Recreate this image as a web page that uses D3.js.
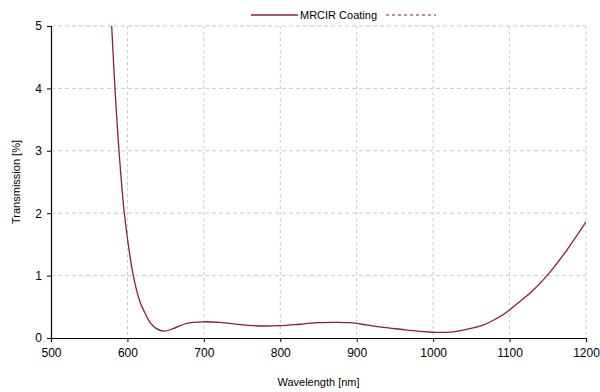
<!DOCTYPE html>
<html>
<head>
<meta charset="utf-8">
<script src="https://cdn.jsdelivr.net/npm/d3@7"></script>
<style>
  body { margin: 0; background: #fff; }
  svg { display: block; font-family: "Liberation Sans", Arial, sans-serif; }
</style>
</head>
<body>
<div id="chart"></div>
<script>
// Transmission curve
const wavelengths = [579.4, 583.7, 589, 596, 607.7, 617, 623, 629.5, 638, 648, 660, 677.5, 699, 721, 745, 765, 800, 825, 848, 870, 891, 913, 935, 957, 980, 1005, 1022, 1044, 1066, 1087, 1100, 1115, 1127, 1149, 1175, 1200];
const transmission = [5.0, 4.0, 3.0, 2.0, 1.0, 0.56, 0.40, 0.25, 0.15, 0.11, 0.15, 0.235, 0.26, 0.25, 0.22, 0.197, 0.197, 0.22, 0.245, 0.25, 0.245, 0.21, 0.17, 0.14, 0.11, 0.09, 0.095, 0.14, 0.21, 0.34, 0.45, 0.60, 0.72, 1.0, 1.41, 1.86];
const xTicks = [500, 600, 700, 800, 900, 1000, 1100, 1200];
const yTicks = [0, 1, 2, 3, 4, 5];
const seriesName = 'MRCIR Coating';

const W = 600, H = 392;
const margin = { top: 26, right: 14, bottom: 54, left: 51 };
const width = W - margin.left - margin.right;
const height = H - margin.top - margin.bottom;

const svg = d3.select('#chart').append('svg')
    .attr('width', W)
    .attr('height', H);

const g = svg.append('g')
    .attr('transform', `translate(${margin.left},${margin.top})`);

const x = d3.scaleLinear().domain([500, 1200]).range([0, width]);
const y = d3.scaleLinear().domain([0, 5]).range([height, 0]);

// Grid
g.append('g').selectAll('line')
    .data(xTicks.filter(d => d > 500))
    .join('line')
    .attr('x1', d => x(d)).attr('x2', d => x(d))
    .attr('y1', 0).attr('y2', height)
    .attr('stroke', '#c8c8c8')
    .attr('stroke-dasharray', '3,3');

g.append('g').selectAll('line')
    .data(yTicks.filter(d => d > 0))
    .join('line')
    .attr('x1', 0).attr('x2', width)
    .attr('y1', d => y(d)).attr('y2', d => y(d))
    .attr('stroke', '#c8c8c8')
    .attr('stroke-dasharray', '4,3');

// Axes
const xAxis = g.append('g')
    .attr('transform', `translate(0,${height})`)
    .call(d3.axisBottom(x).tickValues(xTicks).tickSize(4).tickPadding(6).tickFormat(d3.format('d')));
const yAxis = g.append('g')
    .call(d3.axisLeft(y).tickValues(yTicks).tickSize(4).tickPadding(5).tickFormat(d3.format('d')));

[xAxis, yAxis].forEach(a => {
    a.select('.domain').attr('stroke', '#000').attr('stroke-width', 1.2);
    a.selectAll('.tick line').attr('stroke', '#000');
    a.selectAll('.tick text').attr('font-size', '12px').attr('fill', '#000')
        .attr('font-family', '"Liberation Sans", Arial, sans-serif');
});

// Curve (clipped to plot area)
svg.append('defs').append('clipPath').attr('id', 'clip')
    .append('rect').attr('width', width).attr('height', height);

const data = wavelengths.map((w, i) => ({ w, t: transmission[i] }));
const line = d3.line()
    .x(d => x(d.w))
    .y(d => y(d.t))
    .curve(d3.curveCatmullRom.alpha(0.5));

g.append('path')
    .datum(data)
    .attr('clip-path', 'url(#clip)')
    .attr('fill', 'none')
    .attr('stroke', '#8b2030')
    .attr('stroke-width', 1.3)
    .attr('d', line);

// Axis labels
svg.append('text')
    .attr('x', margin.left + width / 2)
    .attr('y', 386)
    .attr('text-anchor', 'middle')
    .attr('font-size', '11px')
    .text('Wavelength [nm]');

svg.append('text')
    .attr('transform', 'rotate(-90)')
    .attr('x', -(margin.top + height / 2))
    .attr('y', 20)
    .attr('text-anchor', 'middle')
    .attr('font-size', '11px')
    .text('Transmission [%]');

// Legend
const lg = svg.append('g');
lg.append('line')
    .attr('x1', 251).attr('x2', 298)
    .attr('y1', 15).attr('y2', 15)
    .attr('stroke', '#8b2030').attr('stroke-width', 1.3);
lg.append('text')
    .attr('x', 300).attr('y', 19)
    .attr('font-size', '11px')
    .text(seriesName);
lg.append('line')
    .attr('x1', 386).attr('x2', 436)
    .attr('y1', 15).attr('y2', 15)
    .attr('stroke', '#8b2030').attr('stroke-width', 1)
    .attr('stroke-dasharray', '3,3');
</script>
</body>
</html>
